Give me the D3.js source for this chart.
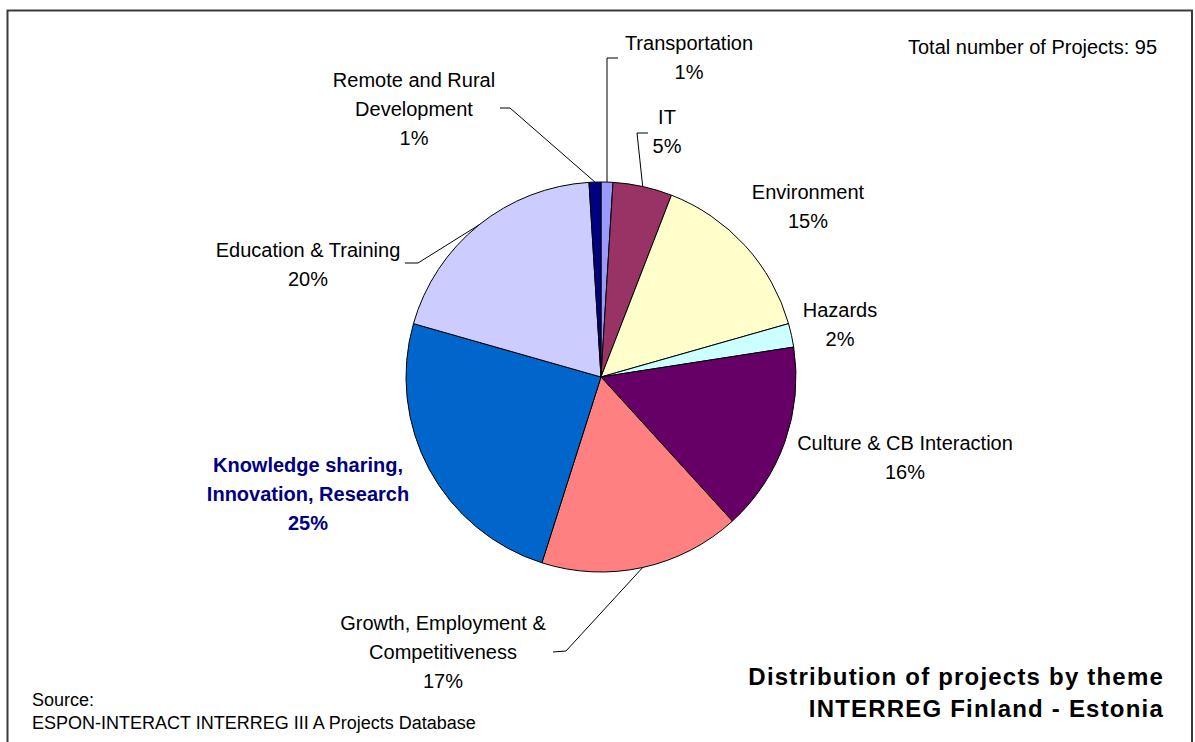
<!DOCTYPE html>
<html>
<head>
<meta charset="utf-8">
<script src="https://cdn.jsdelivr.net/npm/d3@7"></script>
<style>
  html, body { margin: 0; padding: 0; background: #fff; }
  svg { display: block; font-family: Arial, "Liberation Sans", sans-serif; }
</style>
</head>
<body>
<svg id="chart" width="1195" height="742"></svg>
<script>
// ---- data ----
const themes = ["Transportation", "IT", "Environment", "Hazards", "Culture & CB Interaction",
  "Growth, Employment & Competitiveness", "Knowledge sharing, Innovation, Research",
  "Education & Training", "Remote and Rural Development"];
const shares = [1, 5, 15, 2, 16, 17, 25, 20, 1];
const colours = ["#9999FF", "#993366", "#FFFFCC", "#CCFFFF", "#660066", "#FF8080", "#0066CC", "#CCCCFF", "#000080"];
const labelLines = [
  ["Transportation"], ["IT"], ["Environment"], ["Hazards"], ["Culture & CB Interaction"],
  ["Growth, Employment &", "Competitiveness"], ["Knowledge sharing,", "Innovation, Research"],
  ["Education & Training"], ["Remote and Rural", "Development"]
];
const totalProjects = 95;

// ---- layout (positions of labels & leader elbows) ----
const cx = 601, cy = 377, R = 195;
const labelPos = [
  {x: 689, y: 50}, {x: 667, y: 124}, {x: 808, y: 199}, {x: 840, y: 317}, {x: 905, y: 450},
  {x: 443, y: 630}, {x: 308, y: 472}, {x: 308, y: 257}, {x: 414, y: 87}
];
const leaders = [
  [[618, 58], [607, 58]], [[648, 133], [637, 133]], null, null, null,
  [[553, 652], [566, 651]], null, [[405, 263], [418, 263]], [[500, 108], [510, 108]]
];

const svg = d3.select("#chart");

// border
svg.append("rect").attr("x", 7.5).attr("y", 10.5).attr("width", 1184.5).attr("height", 745)
  .attr("fill", "#fff").attr("stroke", "#3a3a3a").attr("stroke-width", 2);

const pie = d3.pie().sort(null).value(d => d)(shares);
const arc = d3.arc().innerRadius(0).outerRadius(R);

const g = svg.append("g").attr("transform", `translate(${cx},${cy})`);
g.selectAll("path").data(pie).join("path")
  .attr("d", arc)
  .attr("fill", (d, i) => colours[i])
  .attr("stroke", "#000").attr("stroke-width", 1);

// leader lines
pie.forEach((d, i) => {
  if (!leaders[i]) return;
  const a = (d.startAngle + d.endAngle) / 2;
  const rim = [cx + R * Math.sin(a), cy - R * Math.cos(a)];
  const pts = leaders[i].concat([rim]);
  svg.append("path").attr("d", d3.line()(pts))
    .attr("fill", "none").attr("stroke", "#000").attr("stroke-width", 1);
});

// labels
const lineH = 29;
pie.forEach((d, i) => {
  const bold = i === 6;
  const t = svg.append("text")
    .attr("text-anchor", "middle")
    .attr("font-size", 20)
    .attr("font-weight", bold ? "bold" : "normal")
    .attr("fill", bold ? "#000080" : "#000");
  const lines = labelLines[i].concat([shares[i] + "%"]);
  lines.forEach((ln, k) => {
    t.append("tspan").attr("x", labelPos[i].x).attr("y", labelPos[i].y + k * lineH).text(ln);
  });
});

svg.append("text").attr("x", 1157).attr("y", 54).attr("text-anchor", "end")
  .attr("font-size", 20).attr("fill", "#000").text("Total number of Projects: " + totalProjects);

const title = svg.append("text").attr("text-anchor", "end").attr("font-size", 24)
  .attr("font-weight", "bold").attr("letter-spacing", 1.2).attr("fill", "#000");
title.append("tspan").attr("x", 1164).attr("y", 685).text("Distribution of projects by theme");
title.append("tspan").attr("x", 1164).attr("y", 717).text("INTERREG Finland - Estonia");

const src = svg.append("text").attr("font-size", 18).attr("fill", "#000");
src.append("tspan").attr("x", 32).attr("y", 706).text("Source:");
src.append("tspan").attr("x", 32).attr("y", 729).text("ESPON-INTERACT INTERREG III A Projects Database");
</script>
</body>
</html>
